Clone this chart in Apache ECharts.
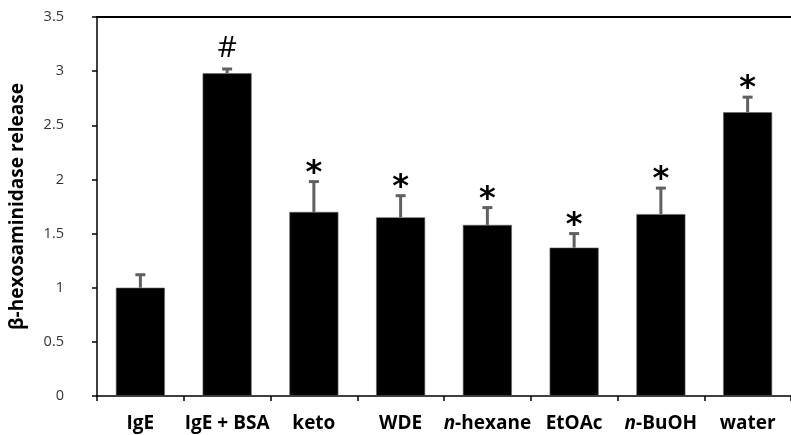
<!DOCTYPE html>
<html>
<head>
<meta charset="utf-8">
<script src="https://cdn.jsdelivr.net/npm/echarts@6/dist/echarts.min.js"></script>
<style>
html,body{margin:0;padding:0;background:#fff;}
#chart{width:791px;height:435px;}
</style>
</head>
<body>
<div id="chart"></div>
<script>
const categories = ['IgE', 'IgE + BSA', 'keto', 'WDE', 'n-hexane', 'EtOAc', 'n-BuOH', 'water'];
const means = [1.00, 2.98, 1.70, 1.65, 1.58, 1.37, 1.68, 2.62];
const errors = [0.12, 0.04, 0.28, 0.20, 0.16, 0.13, 0.24, 0.14];
const marks = ['', '#', '*', '*', '*', '*', '*', '*'];
const yMin = 0, yMax = 3.5, yInterval = 0.5;
const yTitle = 'β-hexosaminidase release';

const chart = echarts.init(document.getElementById('chart'), null, {renderer: 'canvas'});

const errData = categories.map((c, i) => [i, means[i], errors[i]]);

const option = {
  animation: false,
  backgroundColor: '#fff',
  grid: {left: 96, top: 17, width: 700, bottom: 39, containLabel: false},
  xAxis: [{
    type: 'category',
    data: categories,
    position: 'bottom',
    axisLine: {show: true, lineStyle: {color: '#000', width: 1.5}},
    axisTick: {show: true, length: 5, lineStyle: {color: '#000', width: 1.5}},
    axisLabel: {
      margin: 18,
      interval: 0,
      color: '#000',
      fontFamily: 'Open Sans',
      fontWeight: 'bold',
      fontSize: 19,
      formatter: function (v) {
        if (v.indexOf('n-') === 0) return '{i|n}-' + v.slice(2);
        return v;
      },
      rich: {
        i: {fontStyle: 'italic', fontWeight: 'bold', fontFamily: 'Open Sans', fontSize: 19, color: '#000'}
      }
    }
  }, {
    type: 'category',
    data: categories,
    position: 'top',
    axisLine: {show: true, lineStyle: {color: '#000', width: 2}},
    axisTick: {show: false},
    axisLabel: {show: false}
  }],
  yAxis: {
    type: 'value',
    min: yMin,
    max: yMax,
    interval: yInterval,
    name: yTitle,
    nameLocation: 'middle',
    nameGap: 70,
    nameTextStyle: {fontFamily: 'Open Sans', fontWeight: 'bold', fontSize: 19, color: '#000'},
    axisLine: {show: true, lineStyle: {color: '#000', width: 1.5}},
    axisTick: {show: true, length: 5, lineStyle: {color: '#000', width: 1.5}},
    axisLabel: {margin: 33, color: '#333', fontFamily: 'Open Sans', fontSize: 14.5},
    splitLine: {show: false}
  },
  series: [{
    type: 'bar',
    data: means,
    barWidth: 49,
    itemStyle: {color: '#000', borderColor: '#666', borderWidth: 0.6}
  }, {
    type: 'custom',
    data: errData,
    z: 5,
    renderItem: function (params, api) {
      const x = api.value(0), m = api.value(1), e = api.value(2);
      const base = api.coord([x, m]);
      const top = api.coord([x, m + e]);
      const halfCap = 5;
      const st = {stroke: '#606060', lineWidth: 3};
      const children = [
        {type: 'line', shape: {x1: base[0], y1: base[1], x2: top[0], y2: top[1]}, style: st},
        {type: 'line', shape: {x1: top[0] - halfCap, y1: top[1], x2: top[0] + halfCap, y2: top[1]}, style: st}
      ];
      const mk = marks[params.dataIndex];
      if (mk) {
        const isHash = mk === '#';
        children.push({
          type: 'text',
          style: {
            text: mk,
            x: top[0],
            y: top[1] - (isHash ? 21 : 8),
            align: 'center',
            verticalAlign: 'middle',
            fontFamily: isHash ? 'Open Sans' : 'DejaVu Sans',
            fontSize: isHash ? 30 : 32,
            fontWeight: isHash ? 'normal' : 'bold',
            fill: '#000'
          }
        });
      }
      return {type: 'group', children: children};
    }
  }]
};
chart.setOption(option);
</script>
</body>
</html>
